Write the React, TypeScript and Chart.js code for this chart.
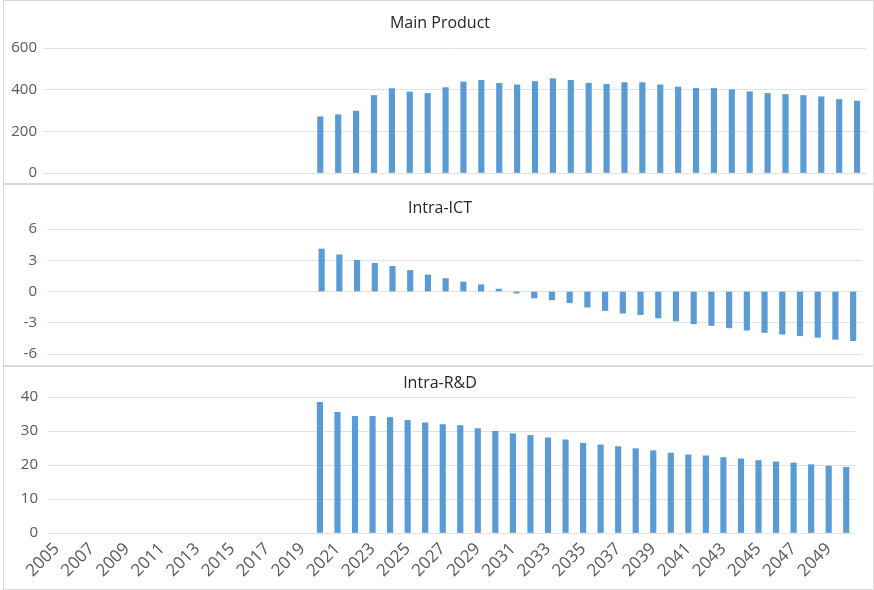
import React, { useEffect, useRef } from "react";
import { Chart, registerables } from "chart.js";
Chart.register(...registerables);

const years = [
  "2005", "2006", "2007", "2008", "2009", "2010", "2011", "2012", "2013", "2014",
  "2015", "2016", "2017", "2018", "2019", "2020", "2021", "2022", "2023", "2024",
  "2025", "2026", "2027", "2028", "2029", "2030", "2031", "2032", "2033", "2034",
  "2035", "2036", "2037", "2038", "2039", "2040", "2041", "2042", "2043", "2044",
  "2045", "2046", "2047", "2048", "2049", "2050",
];

const emptyYears = [null, null, null, null, null, null, null, null, null, null, null, null, null, null, null];

const mainProduct = [
  ...emptyYears,
  270, 280, 297, 372, 405, 389, 382, 410, 437, 445, 430, 423, 439, 453, 445,
  431, 426, 434, 434, 423, 413, 406, 406, 400, 390, 382, 377, 372, 366, 353, 345,
];

const intraICT = [
  ...emptyYears,
  4.08, 3.52, 3.0, 2.7, 2.41, 2.02, 1.59, 1.24, 0.91, 0.65, 0.23, -0.15, -0.62, -0.81, -1.08,
  -1.5, -1.83, -2.08, -2.22, -2.54, -2.83, -3.1, -3.26, -3.49, -3.71, -3.94, -4.1, -4.23, -4.4, -4.59, -4.72,
];

const intraRD = [
  ...emptyYears,
  38.4, 35.5, 34.3, 34.3, 34.0, 33.1, 32.4, 31.9, 31.6, 30.7, 29.9, 29.2, 28.7, 28.0, 27.4,
  26.4, 25.9, 25.4, 24.8, 24.2, 23.5, 23.0, 22.7, 22.2, 21.8, 21.3, 20.9, 20.6, 20.1, 19.7, 19.3,
];

const FONT = "'Open Sans', 'DejaVu Sans', sans-serif";
const BAR = "#5B9BD5";
const GRID = "#e2e2e2";
const TICK = "#595959";

type PanelProps = {
  title: string;
  data: (number | null)[];
  top: number;
  height: number;
  min: number;
  max: number;
  step: number;
  yWidth: number;
  yPad: number;
  padTop: number;
  padBottom: number;
  padRight: number;
  showX: boolean;
  xHeight?: number;
  titleY: number;
};

function Panel(p: PanelProps) {
  const ref = useRef<HTMLCanvasElement>(null);
  useEffect(() => {
    if (!ref.current) return;
    const chart = new Chart(ref.current, {
      type: "bar",
      data: {
        labels: years,
        datasets: [
          {
            data: p.data as any,
            backgroundColor: BAR,
            borderWidth: 0,
            barThickness: 5.5,
          },
        ],
      },
      options: {
        animation: false,
        responsive: false,
        layout: { padding: { top: p.padTop, bottom: p.padBottom, left: 0, right: p.padRight } },
        plugins: { legend: { display: false }, title: { display: false }, tooltip: { enabled: false } },
        scales: {
          x: {
            display: p.showX,
            offset: true,
            grid: { display: false, drawTicks: false },
            border: { display: false },
            ticks: {
              autoSkip: false,
              maxRotation: 45,
              minRotation: 45,
              padding: 6,
              color: TICK,
              font: { family: FONT, size: 17 },
              callback: (_v: any, i: number) => (i % 2 === 0 ? years[i] : ""),
            },
            afterFit: (s: any) => {
              if (p.xHeight) s.height = p.xHeight;
            },
          },
          y: {
            min: p.min,
            max: p.max,
            grid: { color: GRID, drawTicks: false, lineWidth: 1 },
            border: { display: false },
            ticks: {
              stepSize: p.step,
              padding: p.yPad,
              color: TICK,
              font: { family: FONT, size: 15 },
            },
            afterFit: (s: any) => {
              s.width = p.yWidth;
            },
          },
        },
      },
    });
    return () => chart.destroy();
  }, []);
  return (
    <div style={{ position: "absolute", left: 0, top: p.top, width: 874, height: p.height }}>
      <canvas ref={ref} width={874} height={p.height} style={{ display: "block" }} />
      <div
        style={{
          position: "absolute",
          left: 0,
          width: 880,
          top: p.titleY - 11,
          height: 22,
          lineHeight: "22px",
          textAlign: "center",
          fontFamily: FONT,
          fontSize: 16,
          color: "#262626",
        }}
      >
        {p.title}
      </div>
    </div>
  );
}

export default function App() {
  return (
    <div style={{ position: "fixed", left: 0, top: 0, width: 874, height: 590, background: "#fff", overflow: "hidden" }}>
      <div
        style={{
          position: "absolute",
          left: 3,
          top: 0,
          width: 869,
          height: 588,
          border: "1px solid #d9d9d9",
        }}
      />
      <Panel
        title="Main Product"
        data={mainProduct}
        top={0}
        height={188}
        min={0}
        max={600}
        step={200}
        yWidth={43}
        yPad={6}
        padTop={48}
        padBottom={0}
        padRight={8}
        showX={false}
        titleY={22}
      />
      <Panel
        title="Intra-ICT"
        data={intraICT}
        top={184}
        height={189}
        min={-6}
        max={6}
        step={3}
        yWidth={47}
        yPad={10}
        padTop={45}
        padBottom={0}
        padRight={12}
        showX={false}
        titleY={23}
      />
      <Panel
        title="Intra-R&D"
        data={intraRD}
        top={366}
        height={224}
        min={0}
        max={40}
        step={10}
        yWidth={48}
        yPad={10}
        padTop={31}
        padBottom={0}
        padRight={19}
        showX={true}
        xHeight={57}
        titleY={16}
      />
      <div style={{ position: "absolute", left: 3, top: 183, width: 870, height: 2, background: "#d9d9d9" }} />
      <div style={{ position: "absolute", left: 3, top: 365, width: 870, height: 2, background: "#d9d9d9" }} />
    </div>
  );
}
